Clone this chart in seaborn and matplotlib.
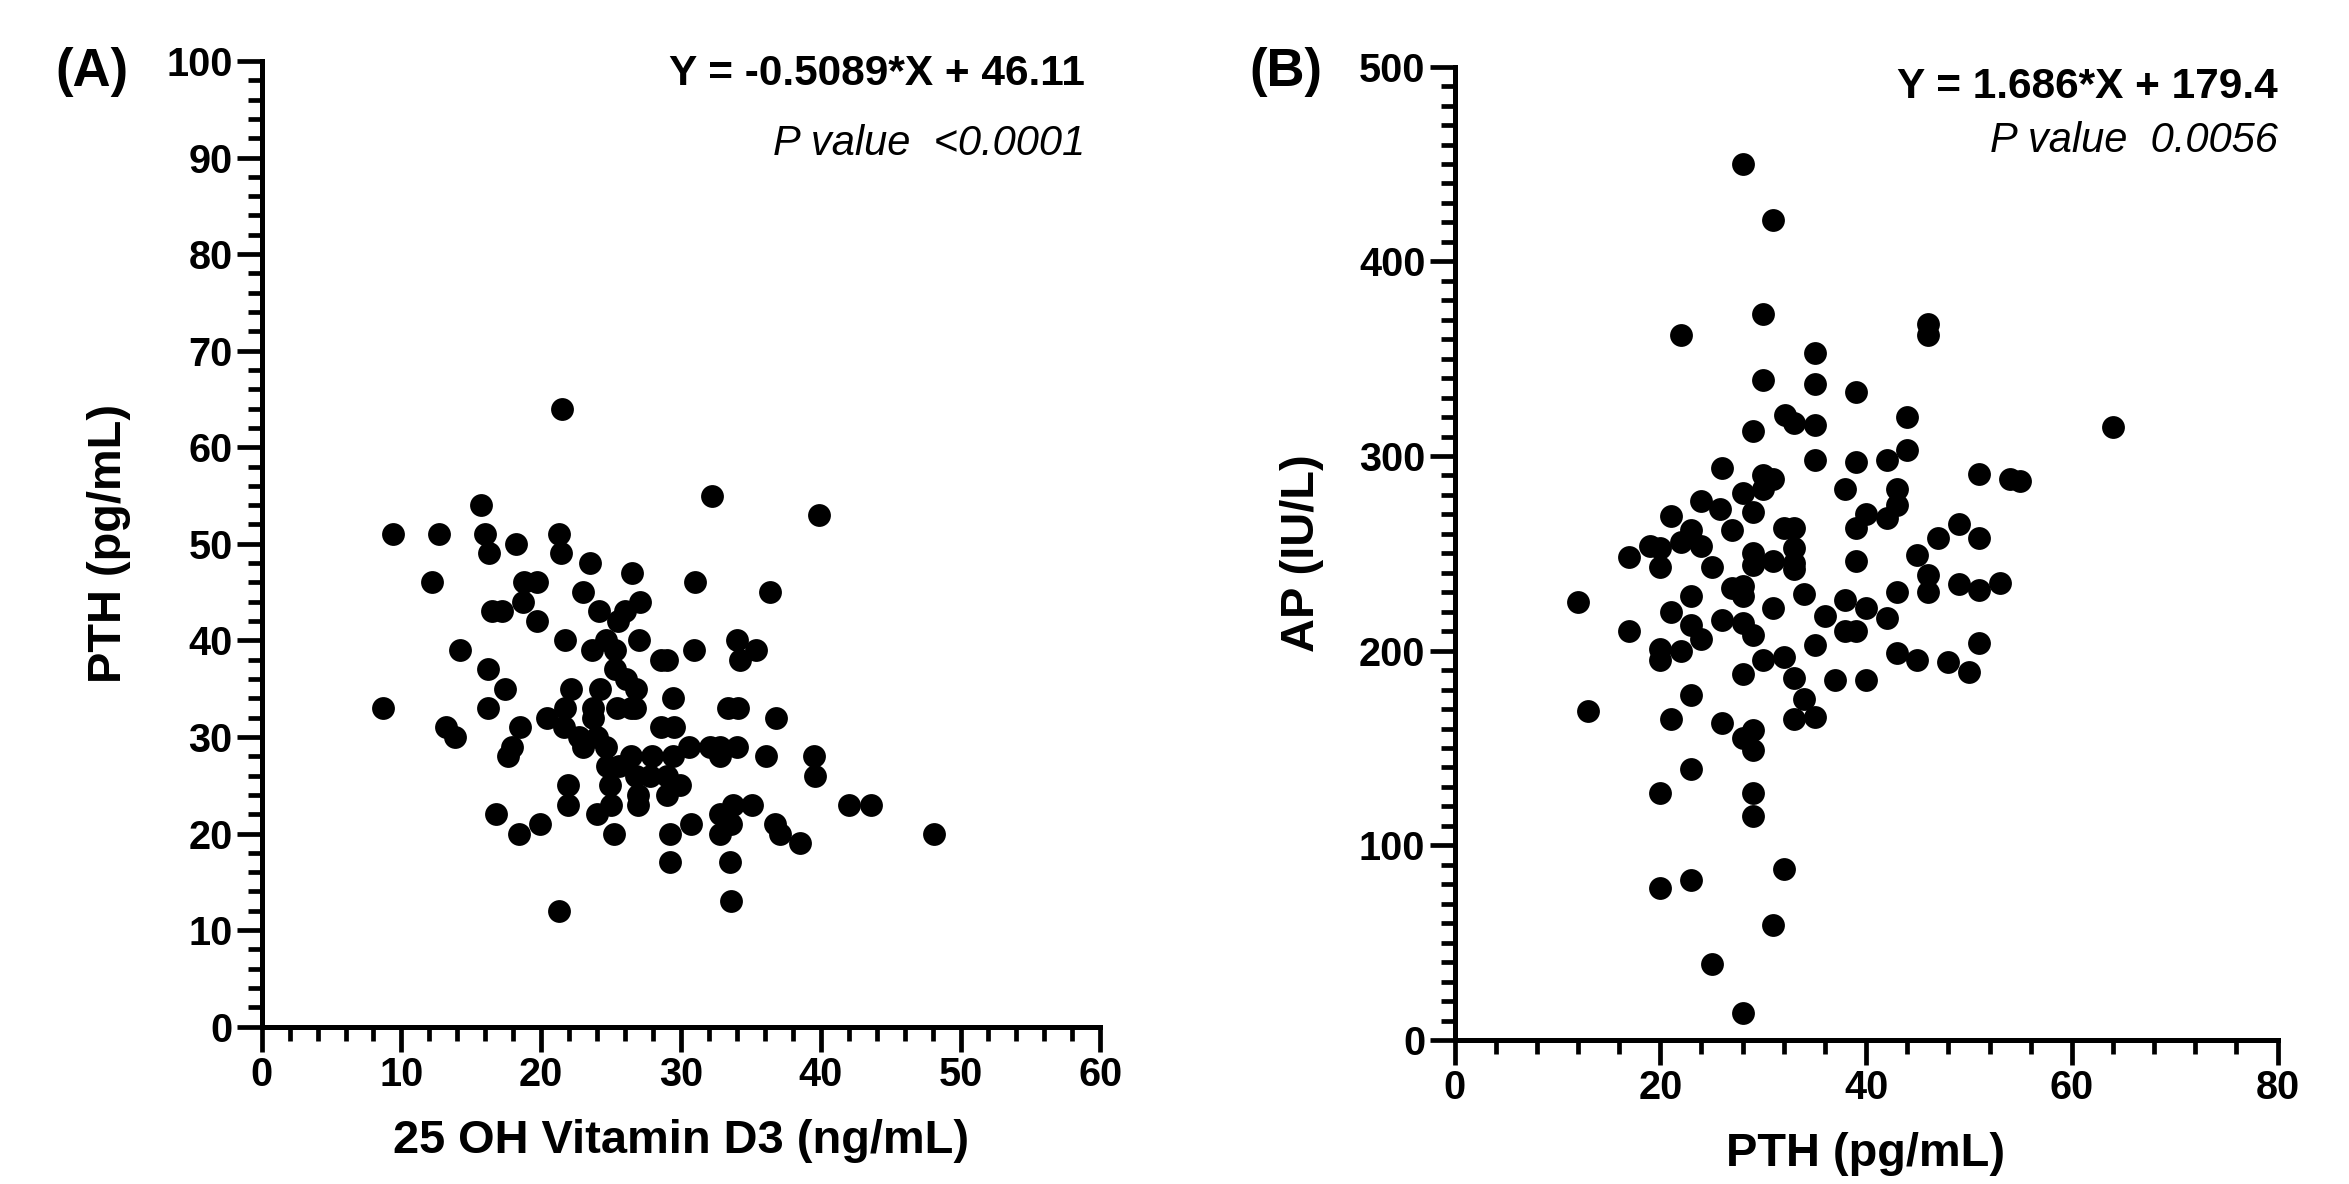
import matplotlib
matplotlib.use("Agg")
import matplotlib.pyplot as plt
import seaborn as sns
import pandas as pd
from matplotlib.ticker import MultipleLocator

# panel A: 25 OH vitamin D3 vs PTH
vitd = [21.5, 32.2, 15.7, 9.4, 12.7, 16.0, 16.3, 18.2, 21.3, 21.4,
        23.5, 26.5, 31.0, 12.2, 18.8, 19.7, 23.0, 18.7, 27.1, 16.5,
        17.2, 24.1, 26.0, 19.7, 25.5, 21.7, 23.6, 24.6, 25.3, 27.0,
        28.6, 29.0, 30.9, 34.0, 34.2, 35.4, 14.2, 16.2, 25.3, 26.1,
        17.4, 22.1, 24.2, 26.8, 29.4, 8.7, 16.2, 20.4, 21.7, 23.7,
        25.4, 26.4, 33.4, 34.1, 21.6, 13.2, 13.8, 18.5, 17.9, 17.6,
        23.7, 22.7, 23.0, 24.0, 24.6, 28.6, 29.5, 24.7, 25.6, 26.4,
        27.9, 29.4, 30.6, 32.1, 32.8, 34.0, 32.8, 26.8, 27.8, 29.0,
        29.9, 24.9, 25.0, 26.9, 26.9, 29.0, 21.9, 21.9, 24.0, 16.8,
        18.4, 19.9, 25.2, 29.2, 30.7, 32.8, 33.7, 32.8, 33.6, 29.2,
        33.5, 33.6, 21.3, 39.9, 36.4, 36.8, 36.1, 39.5, 39.6, 35.1,
        36.7, 37.1, 38.5, 42.0, 43.6, 48.1, 26.7]
pth_a = [64, 55, 54, 51, 51, 51, 49, 50, 51, 49,
         48, 47, 46, 46, 46, 46, 45, 44, 44, 43,
         43, 43, 43, 42, 42, 40, 39, 40, 39, 40,
         38, 38, 39, 40, 38, 39, 39, 37, 37, 36,
         35, 35, 35, 35, 34, 33, 33, 32, 33, 33,
         33, 33, 33, 33, 31, 31, 30, 31, 29, 28,
         32, 30, 29, 30, 29, 31, 31, 27, 27, 28,
         28, 28, 29, 29, 29, 29, 28, 26, 26, 26,
         25, 25, 23, 24, 23, 24, 25, 23, 22, 22,
         20, 21, 20, 20, 21, 22, 23, 20, 21, 17,
         17, 13, 12, 53, 45, 32, 28, 28, 26, 23,
         21, 20, 19, 23, 23, 20, 33]

# panel B: PTH vs AP
pth_b = [28.0, 31.0, 30.0, 22.0, 35.0, 30.0, 35.0, 39.0, 44.0, 32.1,
         33.0, 35.0, 29.0, 46.0, 46.0, 35.0, 39.0, 42.0, 44.0, 26.0,
         30.0, 31.0, 30.0, 28.0, 38.0, 43.0, 43.0, 24.0, 25.8, 29.0,
         21.0, 40.0, 39.0, 42.0, 23.0, 22.0, 24.0, 19.0, 20.0, 27.0,
         32.0, 33.0, 33.0, 33.0, 33.0, 29.0, 29.0, 31.0, 17.0, 20.0,
         25.0, 39.0, 45.0, 12.0, 27.0, 28.0, 28.0, 23.0, 31.0, 34.0,
         38.0, 40.0, 43.0, 21.0, 36.0, 42.0, 17.0, 20.0, 20.0, 22.0,
         23.0, 24.0, 26.0, 28.0, 29.0, 30.0, 32.0, 35.0, 38.0, 39.0,
         43.0, 45.0, 28.0, 33.0, 34.0, 33.0, 35.0, 37.0, 40.0, 23.0,
         13.0, 21.0, 26.0, 28.0, 29.0, 29.0, 23.0, 20.0, 29.0, 29.0,
         32.0, 20.0, 23.0, 31.0, 25.0, 28.0, 64.0, 51.0, 54.0, 55.0,
         49.0, 47.0, 51.0, 46.0, 46.0, 49.0, 51.0, 53.0, 48.0, 50.0,
         51.0]
ap = [450, 421, 373, 362, 353, 339, 337, 333, 320, 321,
      317, 316, 313, 368, 362, 298, 297, 298, 303, 294,
      290, 288, 283, 281, 283, 283, 275, 277, 273, 271,
      269, 270, 263, 268, 262, 256, 254, 254, 253, 262,
      263, 263, 253, 245, 242, 250, 244, 246, 248, 243,
      243, 246, 249, 225, 232, 233, 228, 228, 222, 229,
      226, 222, 230, 220, 218, 217, 210, 201, 195, 200,
      213, 206, 216, 214, 208, 195, 197, 203, 210, 210,
      199, 195, 188, 186, 175, 165, 166, 185, 185, 177,
      169, 165, 163, 155, 159, 149, 139, 127, 127, 115,
      88, 78, 82, 59, 39, 14, 315, 291, 288, 287,
      265, 258, 258, 239, 230, 234, 231, 235, 194, 189,
      204]

eq_a = "Y = -0.5089*X + 46.11"
p_a = "P value  <0.0001"
eq_b = "Y = 1.686*X + 179.4"
p_b = "P value  0.0056"

sns.set_style("ticks")
plt.rcParams["font.family"] = ["Liberation Sans", "DejaVu Sans"]
plt.rcParams["font.weight"] = "bold"
for key in ["text.color", "axes.labelcolor", "xtick.color", "ytick.color",
            "axes.edgecolor"]:
    plt.rcParams[key] = "black"

df_a = pd.DataFrame({"vitd": vitd, "pth": pth_a})
df_b = pd.DataFrame({"pth": pth_b, "ap": ap})

fig = plt.figure(figsize=(23.49, 11.84), dpi=100)
ax_a = fig.add_axes([0.1114, 0.1329, 0.3570, 0.8156])
ax_b = fig.add_axes([0.6192, 0.1216, 0.3504, 0.8221])


def style_axis(ax, xmax, ymax, xmaj, xmin, ymaj, ymin):
    ax.set_xlim(0, xmax)
    ax.set_ylim(0, ymax)
    ax.xaxis.set_major_locator(MultipleLocator(xmaj))
    ax.xaxis.set_minor_locator(MultipleLocator(xmin))
    ax.yaxis.set_major_locator(MultipleLocator(ymaj))
    ax.yaxis.set_minor_locator(MultipleLocator(ymin))
    sns.despine(ax=ax)
    for s in ["left", "bottom"]:
        ax.spines[s].set_linewidth(3.6)
        ax.spines[s].set_color("black")
    ax.tick_params(which="major", direction="out", length=18, width=3.4,
                   labelsize=28.5, pad=3, color="black", labelcolor="black")
    ax.tick_params(which="minor", direction="out", length=10, width=3.4,
                   color="black")
    for lab in ax.get_xticklabels() + ax.get_yticklabels():
        lab.set_fontweight("bold")


sns.scatterplot(data=df_a, x="vitd", y="pth", ax=ax_a, color="black",
                s=270, linewidth=0, clip_on=False)
style_axis(ax_a, 60, 100, 10, 2, 10, 2)
ax_a.set_xlabel("25 OH Vitamin D3 (ng/mL)", fontsize=33.8, fontweight="bold", labelpad=18)
ax_a.set_ylabel("PTH (pg/mL)", fontsize=33.8, fontweight="bold", labelpad=25)
ax_a.text(0.982, 0.975, eq_a, transform=ax_a.transAxes, ha="right", va="baseline",
          fontsize=30.5, fontweight="bold")
ax_a.text(0.982, 0.903, p_a, transform=ax_a.transAxes, ha="right", va="baseline",
          fontsize=30, fontweight="normal", style="italic")

sns.scatterplot(data=df_b, x="pth", y="ap", ax=ax_b, color="black",
                s=270, linewidth=0, clip_on=False)
style_axis(ax_b, 80, 500, 20, 4, 100, 10)
ax_b.set_xlabel("PTH (pg/mL)", fontsize=33.8, fontweight="bold", labelpad=18)
ax_b.set_ylabel("AP (IU/L)", fontsize=33.8, fontweight="bold", labelpad=25)
ax_b.text(1.0, 0.968, eq_b, transform=ax_b.transAxes, ha="right", va="baseline",
          fontsize=30.5, fontweight="bold")
ax_b.text(1.0, 0.912, p_b, transform=ax_b.transAxes, ha="right", va="baseline",
          fontsize=30, fontweight="normal", style="italic")

fig.text(0.0235, 0.927, "(A)", fontsize=38, fontweight="bold", va="baseline")
fig.text(0.5320, 0.927, "(B)", fontsize=38, fontweight="bold", va="baseline")

fig.savefig("out.png", dpi=100, facecolor="white")
